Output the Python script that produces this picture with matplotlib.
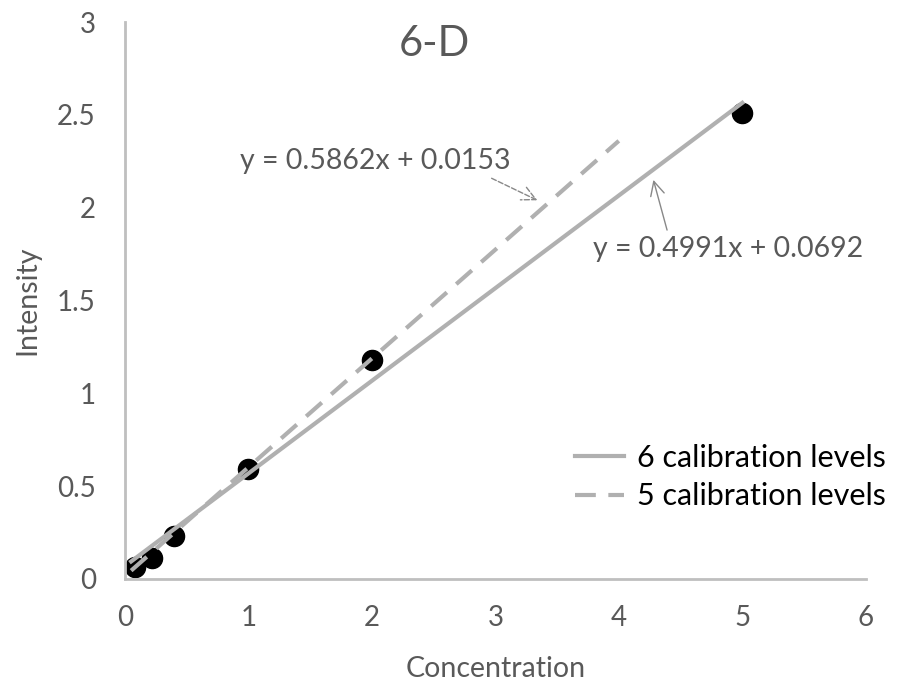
import numpy as np
import matplotlib.pyplot as plt

plt.rcParams['font.family'] = ['Lato', 'DejaVu Sans']

conc = [0.08, 0.22, 0.4, 1.0, 2.0, 5.0]
intensity = [0.065, 0.11, 0.23, 0.59, 1.18, 2.51]

# fitted lines from the chart
slope6, icpt6 = 0.4991, 0.0692
slope5, icpt5 = 0.5862, 0.0153
x6 = [0.05, 5.0]
x5 = [0.05, 4.0]

grey = '#595959'
line_grey = '#b0b0b0'

fig = plt.figure(figsize=(8.99, 6.9), dpi=100)
ax = fig.add_axes([0.139, 0.161, 0.824, 0.807])

ax.scatter(conc, intensity, s=210, color='black', zorder=2)
ax.plot(x6, [slope6 * x + icpt6 for x in x6], color=line_grey, lw=3, zorder=3,
        label='6 calibration levels')
ax.plot(x5, [slope5 * x + icpt5 for x in x5], color=line_grey, lw=3, ls=(0, (5, 3)),
        zorder=3, label='5 calibration levels')

ax.set_xlim(0, 6)
ax.set_ylim(0, 3)
ax.set_xticks(range(0, 7))
ax.set_yticks([0, 0.5, 1, 1.5, 2, 2.5, 3])
ax.set_yticklabels(['0', '0.5', '1', '1.5', '2', '2.5', '3'])
ax.tick_params(length=0, labelsize=20, labelcolor=grey)
ax.tick_params(axis='x', pad=19)
ax.tick_params(axis='y', pad=21)
for s in ['top', 'right']:
    ax.spines[s].set_visible(False)
for s in ['left', 'bottom']:
    ax.spines[s].set_color('#bfbfbf')
    ax.spines[s].set_linewidth(2)

ax.set_xlabel('Concentration', fontsize=20.5, color=grey, labelpad=18)
ax.set_ylabel('Intensity', fontsize=20.5, color=grey, labelpad=12)
ax.text(0.418, 0.96, '6-D', transform=ax.transAxes, fontsize=30, color=grey,
        ha='center', va='center')

ax.annotate('y = 0.5862x + 0.0153', xy=(3.34, 2.04), xytext=(0.93, 2.25),
            fontsize=20.5, color=grey, va='center', ha='left',
            arrowprops=dict(arrowstyle='->', color='#888888', ls='--', lw=1,
                            shrinkA=2, shrinkB=0, relpos=(0.9, 0.0),
                            mutation_scale=25))
ax.annotate('y = 0.4991x + 0.0692', xy=(4.28, 2.15), xytext=(3.79, 1.78),
            fontsize=20.5, color=grey, va='center', ha='left',
            arrowprops=dict(arrowstyle='->', color='#888888', lw=1,
                            shrinkA=2, shrinkB=0, relpos=(0.28, 1.0),
                            mutation_scale=25))

ax.legend(loc='upper left', bbox_to_anchor=(0.607, 0.243), frameon=False,
          fontsize=22, handlelength=1.63, handletextpad=0.4, labelspacing=0.35,
          borderpad=0, borderaxespad=0)

fig.savefig('out.png', dpi=100)
